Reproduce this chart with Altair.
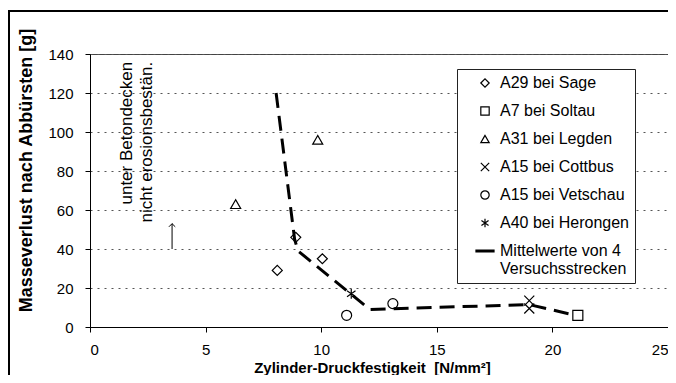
import altair as alt
import pandas as pd

FONT = "Liberation Sans"

# ---- data ----
sage_x = [8.1, 8.9, 10.05]
sage_y = [29, 46, 35]
soltau_x = [21.1]
soltau_y = [6]
legden_x = [6.3, 9.85]
legden_y = [63, 96]
cottbus_x = [19.0, 19.0]
cottbus_y = [13.5, 9.5]
vetschau_x = [11.1, 13.1]
vetschau_y = [6, 12]
herongen_x = [11.3]
herongen_y = [17]

mean_x = [8.05, 8.85, 9.0, 12.1, 19.0, 21.0]
mean_y = [120, 45, 39, 9, 11.5, 6]

series_names = ["A29 bei Sage", "A7 bei Soltau", "A31 bei Legden",
                "A15 bei Cottbus", "A15 bei Vetschau", "A40 bei Herongen",
                "Mittelwerte"]
series_shapes = [
    "diamond", "square", "triangle-up",
    "M-1,-1L1,1M-1,1L1,-1",
    "circle",
    "M0,-1L0,1M-0.85,-0.6L0.85,0.6M-0.85,0.6L0.85,-0.6",
    "M-2.3,-0.2L2.3,-0.2M-2.3,-0.1L2.3,-0.1M-2.3,0L2.3,0M-2.3,0.1L2.3,0.1M-2.3,0.2L2.3,0.2",
]

x_ticks = [0, 5, 10, 15, 20, 25]
y_ticks = [0, 20, 40, 60, 80, 100, 120, 140]

note_x = [1.6, 2.47]
note_y = [136, 136]
note_text = ["unter Betondecken", "nicht erosionsbestän."]

arrow_x = [3.55]
arrow_y = [40]
arrow_y2 = [53]

# ---- tables ----
rows = []
for name, xs, ys in [
    (series_names[0], sage_x, sage_y),
    (series_names[1], soltau_x, soltau_y),
    (series_names[2], legden_x, legden_y),
    (series_names[3], cottbus_x, cottbus_y),
    (series_names[4], vetschau_x, vetschau_y),
    (series_names[5], herongen_x, herongen_y),
]:
    for a, b in zip(xs, ys):
        rows.append({"x": a, "y": b, "series": name})
pts = pd.DataFrame(rows)
mean_df = pd.DataFrame({"x": mean_x, "y": mean_y, "o": list(range(len(mean_x)))})
notes = pd.DataFrame({"x": note_x, "y": note_y, "t": note_text})
arrow = pd.DataFrame({"x": arrow_x, "y": arrow_y, "y2": arrow_y2})

xscale = alt.Scale(domain=[0, 25], nice=False)
yscale = alt.Scale(domain=[0, 140], nice=False)

xaxis = alt.Axis(values=x_ticks, grid=False,
                 title="Zylinder-Druckfestigkeit\u00a0\u00a0[N/mm²]",
                 titleFont=FONT, titleFontSize=15, titleFontWeight="bold",
                 titleY=40, titleBaseline="middle", titleX=282,
                 labelFont=FONT, labelFontSize=15, labelPadding=10, tickSize=5,
                 labelOverlap=False,
                 domainColor="black", tickColor="black", labelColor="black",
                 titleColor="black")
yaxis = alt.Axis(values=y_ticks, grid=True, gridDash=[2, 5], gridColor="#555",
                 gridWidth=1, title="Masseverlust nach Abbürsten [g]",
                 titleFont=FONT, titleFontSize=18, titleFontWeight="bold",
                 titleAngle=270, titleX=-64, titleY=116, titleBaseline="middle",
                 labelFont=FONT, labelFontSize=15, labelPadding=12, tickSize=5,
                 labelOverlap=False,
                 domainColor="black", tickColor="black", labelColor="black",
                 titleColor="black")

X = alt.X("x:Q", scale=xscale, axis=xaxis)
Y = alt.Y("y:Q", scale=yscale, axis=yaxis)

label_expr = ("datum.label == 'Mittelwerte' ? "
              "['    Mittelwerte von 4', 'Versuchsstrecken'] : datum.label")

points = alt.Chart(pts).mark_point(filled=False, color="black", strokeWidth=1.2,
                                   size=100, opacity=1).encode(
    x=X, y=Y,
    shape=alt.Shape("series:N",
                    scale=alt.Scale(domain=series_names, range=series_shapes),
                    legend=alt.Legend(title=None, orient="none", legendX=367, legendY=15,
                                      padding=6, strokeColor="#222", fillColor="white",
                                      labelFont=FONT, labelFontSize=16, labelOffset=7,
                                      symbolOffset=14, rowPadding=12,
                                      symbolStrokeColor="black", symbolStrokeWidth=1.2,
                                      symbolSize=70, labelExpr=label_expr,
                                      labelLimit=400, labelColor="black")),
)

mean_line = alt.Chart(mean_df).mark_line(color="black", strokeWidth=3,
                                         strokeDash=[15, 8]).encode(
    x=X, y=Y, order="o:Q",
)

note_layer = alt.Chart(notes).mark_text(angle=270, align="right", baseline="middle",
                                        font=FONT, fontSize=17, color="black").encode(
    x=X, y=Y, text="t:N",
)

arrow_rule = alt.Chart(arrow).mark_rule(color="black", strokeWidth=1).encode(
    x=X, y=Y, y2="y2:Q",
)
arrow_head = alt.Chart(arrow).mark_point(shape="M-1,1L0,0L1,1", filled=False,
                                         color="black", strokeWidth=1, size=40,
                                         opacity=1).encode(
    x=X, y=alt.Y("y2:Q", scale=yscale, axis=yaxis),
)

frame = alt.Chart(pd.DataFrame({"a": [0]})).mark_rect(
    filled=False, stroke="black", strokeWidth=2, fill=None).encode(
    x=alt.value(-81), x2=alt.value(600), y=alt.value(-43), y2=alt.value(360))

chart = alt.layer(frame, mean_line, points, note_layer, arrow_rule, arrow_head).properties(
    width=578, height=273,
    autosize=alt.AutoSizeParams(type="none"),
    padding={"left": 82, "top": 46, "right": 0, "bottom": 48},
    background="white",
).configure_view(stroke="#444", strokeWidth=1)

chart.save("out.html", embed_options={"renderer": "svg", "actions": False})
